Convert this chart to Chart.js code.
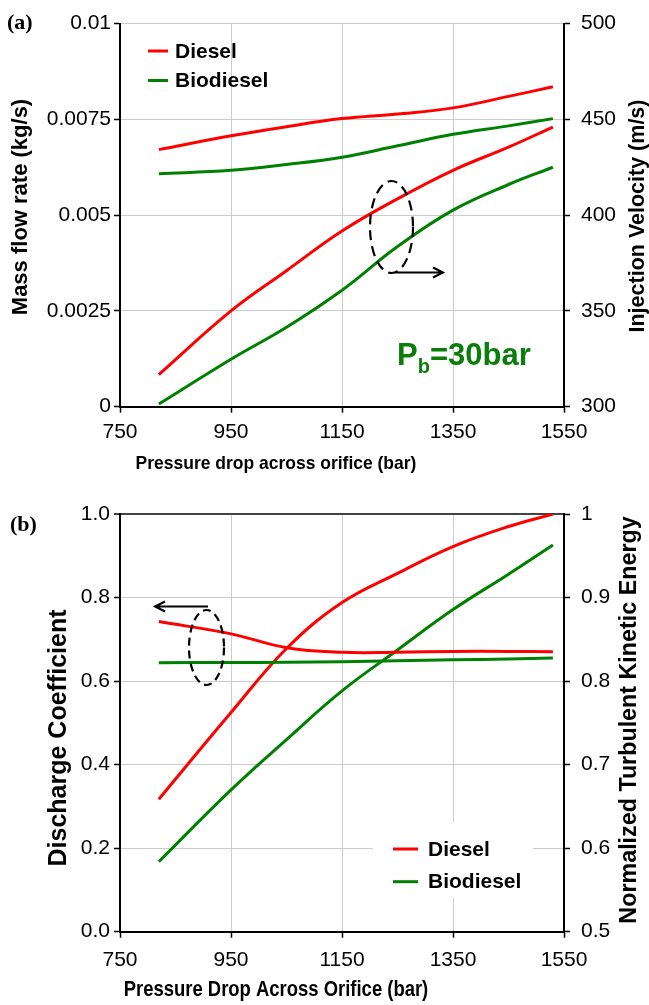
<!DOCTYPE html>
<html>
<head>
<meta charset="utf-8">
<script src="https://cdn.jsdelivr.net/npm/chart.js@4.4.1/dist/chart.umd.min.js"></script>
<style>
body { margin: 0; background: #fff; width: 649px; height: 1005px; position: relative; overflow: hidden; }
canvas { position: absolute; left: 0; }
#chartA { top: 0; }
#chartB { top: 490px; }
.panel { position: absolute; font-family: 'Liberation Serif', 'Times New Roman', serif; font-weight: bold; font-size: 22px; line-height: 22px; }
.pb { position: absolute; left: 397px; top: 340px; color: #0a7d0a; font-family: 'Liberation Sans', Arial, sans-serif; font-weight: bold; font-size: 31px; line-height: 30px; white-space: nowrap; }
.pb span { font-size: 20px; position: relative; top: 8px; }
</style>
</head>
<body>
<canvas id="chartA" width="649" height="480"></canvas>
<canvas id="chartB" width="649" height="515"></canvas>
<div class="panel" style="left:7px; top:11px">(a)</div>
<div class="panel" style="left:10px; top:513px">(b)</div>
<div class="pb">P<span>b</span>=30bar</div>
<script>
// pressure drop across orifice (bar)
const pressure = [820, 950, 1050, 1150, 1250, 1350, 1450, 1530];

// (a) mass flow rate (kg/s) - left axis
const massDiesel = [0.00671, 0.00707, 0.00731, 0.00752, 0.00764, 0.00780, 0.00810, 0.00835];
const massBio    = [0.00608, 0.00617, 0.00632, 0.00651, 0.00681, 0.00711, 0.00733, 0.00752];
// (a) injection velocity (m/s) - right axis
const velDiesel  = [316.8, 350, 371, 391.7, 408.5, 423.4, 435.5, 446];
const velBio     = [301.4, 324.8, 341.5, 360.8, 383.6, 402.6, 416, 425];

// (b) discharge coefficient - left axis
const cdDiesel  = [0.7425, 0.713, 0.680, 0.669, 0.669, 0.671, 0.671, 0.670];
const cdBio     = [0.644, 0.6445, 0.645, 0.6465, 0.6485, 0.651, 0.653, 0.6555];
// (b) normalized turbulent kinetic energy - right axis
const tkeDiesel = [0.6586, 0.7623, 0.839, 0.894, 0.929, 0.961, 0.985, 1.0];
const tkeBio    = [0.5838, 0.6697, 0.730, 0.7883, 0.8373, 0.8856, 0.928, 0.963];

// tick labels
const xTicks    = ['750', '950', '1150', '1350', '1550'];
const massTicks = ['0', '0.0025', '0.005', '0.0075', '0.01'];
const velTicks  = ['300', '350', '400', '450', '500'];
const cdTicks   = ['0.0', '0.2', '0.4', '0.6', '0.8', '1.0'];
const tkeTicks  = ['0.5', '0.6', '0.7', '0.8', '0.9', '1'];

const RED = '#ff0000';
const GREEN = '#008000';
const SANS = "'Liberation Sans', Arial, sans-serif";

function pts(ys) {
    return pressure.map((x, i) => ({ x: x, y: ys[i] }));
}

function line(label, ys, color, axis) {
    return {
        label: label,
        data: pts(ys),
        yAxisID: axis,
        borderColor: color,
        backgroundColor: color,
        borderWidth: 3,
        pointRadius: 0,
        fill: false,
        tension: 0.4
    };
}

function labelFrom(list, min, step) {
    return v => list[Math.round((v - min) / step)];
}

function xAxis(tickPad) {
    return {
        type: 'linear',
        min: 750,
        max: 1550,
        ticks: { stepSize: 200, color: '#000', font: { family: SANS, size: 21 }, padding: tickPad, maxRotation: 0,
                 callback: labelFrom(xTicks, 750, 200) },
        grid: { color: '#cccccc', lineWidth: 1, tickLength: 6, tickColor: '#000', tickWidth: 1.5 },
        border: { color: '#000', width: 2 },
        afterFit: s => { s.height = 73.3; }
    };
}

function yAxis(pos, min, max, step, list, pad, width, grid) {
    return {
        type: 'linear',
        position: pos,
        min: min,
        max: max,
        ticks: { stepSize: step, color: '#000', font: { family: SANS, size: 21 }, padding: pad,
                 callback: labelFrom(list, min, step) },
        grid: grid,
        border: { color: '#000', width: 2 },
        afterFit: s => { s.width = width; }
    };
}

// axis titles: placed by hand, vertical ones read bottom to top, sx squeezes the text
const axisTitles = {
    id: 'axisTitles',
    afterDraw(chart, args, o) {
        const ctx = chart.ctx;
        o.items.forEach(t => {
            ctx.save();
            ctx.translate(t.x, t.y);
            if (t.rot) ctx.rotate(-Math.PI / 2);
            ctx.scale(t.sx || 1, 1);
            ctx.font = 'bold ' + t.size + 'px ' + SANS;
            ctx.fillStyle = '#000';
            ctx.textAlign = 'center';
            ctx.textBaseline = 'middle';
            ctx.fillText(t.text, 0, 0);
            ctx.restore();
        });
    }
};

// legend: one entry per fuel
const fuelLegend = {
    id: 'fuelLegend',
    afterDatasetsDraw(chart, args, o) {
        const ctx = chart.ctx;
        const seen = {};
        const items = chart.data.datasets.filter(d => !seen[d.label] && (seen[d.label] = true));
        ctx.save();
        if (o.box) {
            ctx.fillStyle = '#fff';
            ctx.fillRect(o.box[0], o.box[1], o.box[2], o.box[3]);
        }
        ctx.font = 'bold 21px ' + SANS;
        ctx.textBaseline = 'middle';
        items.forEach((d, i) => {
            const y = o.y + i * o.gap;
            ctx.strokeStyle = d.borderColor;
            ctx.lineWidth = 3;
            ctx.beginPath();
            ctx.moveTo(o.x, y);
            ctx.lineTo(o.x + o.len, y);
            ctx.stroke();
            ctx.fillStyle = '#000';
            ctx.fillText(d.label, o.x + o.len + o.pad, y + 1);
        });
        ctx.restore();
    }
};

// dashed ellipse with an arrow pointing to the axis that applies
const axisHint = {
    id: 'axisHint',
    afterDatasetsDraw(chart, args, o) {
        const ctx = chart.ctx;
        ctx.save();
        ctx.strokeStyle = '#000';
        ctx.lineWidth = 2.2;
        ctx.setLineDash(o.dash);
        ctx.beginPath();
        ctx.ellipse(o.cx, o.cy, o.rx, o.ry, 0, 0, Math.PI * 2);
        ctx.stroke();
        ctx.setLineDash([]);
        ctx.lineWidth = 2;
        ctx.beginPath();
        ctx.moveTo(o.from, o.ay);
        ctx.lineTo(o.to, o.ay);
        const dir = o.to > o.from ? -1 : 1;
        ctx.moveTo(o.to + dir * 10, o.ay - 5);
        ctx.lineTo(o.to, o.ay);
        ctx.lineTo(o.to + dir * 10, o.ay + 5);
        ctx.stroke();
        ctx.restore();
    }
};

// Panel (a)
new Chart(document.getElementById('chartA'), {
    type: 'line',
    data: {
        datasets: [
            line('Diesel', massDiesel, RED, 'y'),
            line('Biodiesel', massBio, GREEN, 'y'),
            line('Diesel', velDiesel, RED, 'y1'),
            line('Biodiesel', velBio, GREEN, 'y1')
        ]
    },
    options: {
        responsive: false,
        animation: false,
        layout: { padding: { top: 19, bottom: 0, left: 0, right: 0 } },
        scales: {
            x: xAxis(7),
            y: yAxis('left', 0, 0.01, 0.0025, massTicks, 3, 120,
                { color: '#cccccc', lineWidth: 1, tickLength: 6, tickColor: '#000', tickWidth: 1.5 }),
            y1: yAxis('right', 300, 500, 50, velTicks, 11, 85,
                { drawOnChartArea: false, tickLength: 6, tickColor: '#000', tickWidth: 1.5 })
        },
        plugins: {
            legend: { display: false },
            tooltip: { enabled: false },
            axisTitles: { items: [
                { text: 'Pressure drop across orifice (bar)', x: 276, y: 464, size: 19, sx: 0.92 },
                { text: 'Mass flow rate (kg/s)', x: 21, y: 207, size: 22, rot: true },
                { text: 'Injection Velocity (m/s)', x: 638, y: 216, size: 21.5, rot: true }
            ] },
            fuelLegend: { x: 148, y: 51, gap: 29.5, len: 20, pad: 7 },
            axisHint: { cx: 391.5, cy: 227, rx: 21.5, ry: 46, dash: [10, 6], from: 395, to: 443, ay: 272.5 }
        }
    },
    plugins: [axisTitles, fuelLegend, axisHint]
});

// Panel (b)
new Chart(document.getElementById('chartB'), {
    type: 'line',
    data: {
        datasets: [
            line('Diesel', cdDiesel, RED, 'y'),
            line('Biodiesel', cdBio, GREEN, 'y'),
            line('Diesel', tkeDiesel, RED, 'y1'),
            line('Biodiesel', tkeBio, GREEN, 'y1')
        ]
    },
    options: {
        responsive: false,
        animation: false,
        layout: { padding: { top: 24, bottom: 0, left: 0, right: 0 } },
        scales: {
            x: xAxis(9.5),
            y: yAxis('left', 0, 1, 0.2, cdTicks, 4, 120,
                { color: ctx => ctx.tick && ctx.tick.value >= 1 ? '#444' : '#cccccc',
                  lineWidth: ctx => ctx.tick && ctx.tick.value >= 1 ? 2 : 1,
                  tickLength: 6, tickColor: '#000', tickWidth: 1.5 }),
            y1: yAxis('right', 0.5, 1, 0.1, tkeTicks, 11, 85,
                { drawOnChartArea: false, tickLength: 6, tickColor: '#000', tickWidth: 1.5 })
        },
        plugins: {
            legend: { display: false },
            tooltip: { enabled: false },
            axisTitles: { items: [
                { text: 'Pressure Drop Across Orifice (bar)', x: 276, y: 500, size: 22.5, sx: 0.82 },
                { text: 'Discharge Coefficient', x: 59, y: 248, size: 25, rot: true },
                { text: 'Normalized Turbulent Kinetic Energy', x: 630, y: 230, size: 23.3, rot: true }
            ] },
            fuelLegend: { x: 393, y: 359, gap: 32.7, len: 25, pad: 10, box: [373, 332, 160, 76] },
            axisHint: { cx: 206.5, cy: 157.5, rx: 17.5, ry: 37.5, dash: [8, 5], from: 208, to: 155, ay: 116.5 }
        }
    },
    plugins: [axisTitles, fuelLegend, axisHint]
});
</script>
</body>
</html>
